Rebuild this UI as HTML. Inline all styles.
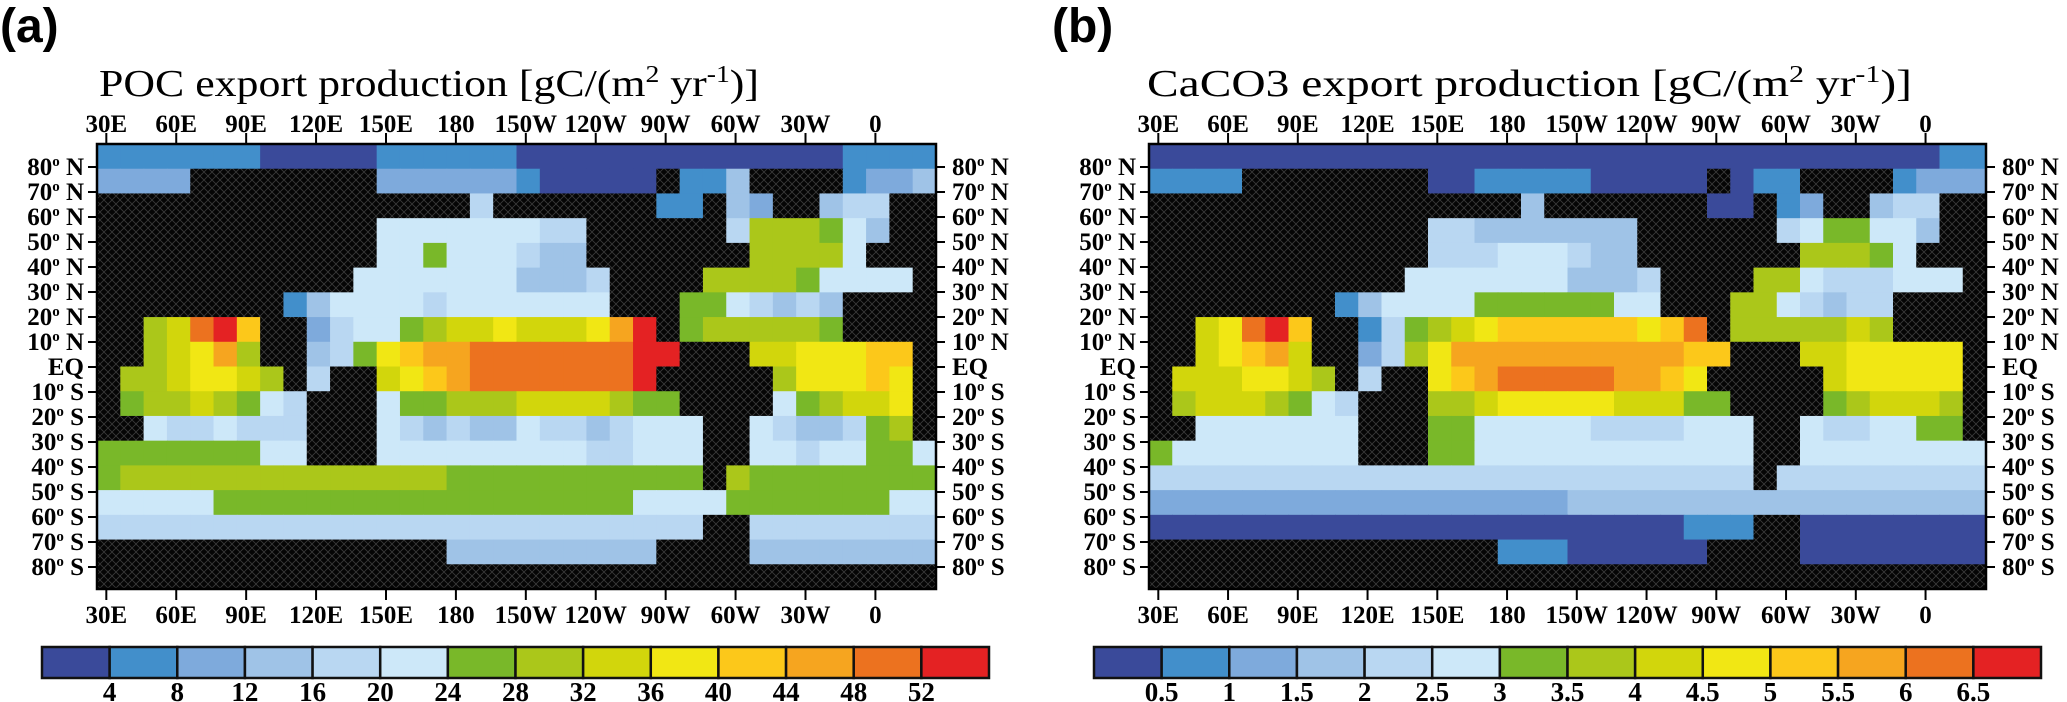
<!DOCTYPE html>
<html><head><meta charset="utf-8"><style>
html,body{margin:0;padding:0;background:#fff;}
svg{display:block;}
.tk{font-family:"Liberation Serif",serif;font-weight:bold;font-size:25px;fill:#000;}
.ttl{font-family:"Liberation Serif",serif;font-size:38px;fill:#000;}
.pl{font-family:"Liberation Sans",sans-serif;font-weight:bold;font-size:48px;fill:#000;}
.cb{font-family:"Liberation Serif",serif;font-weight:bold;font-size:27px;fill:#000;}
</style></head><body>
<svg id="fig" width="2067" height="702" viewBox="0 0 2067 702" xmlns="http://www.w3.org/2000/svg">
<defs>
<pattern id="hatch" width="8" height="8" patternUnits="userSpaceOnUse">
<rect width="8" height="8" fill="#050505"/>
<path d="M0 0L8 8M8 0L0 8" stroke="#3a3a3a" stroke-width="0.8"/>
</pattern>
</defs>
<text class="pl" x="0" y="42">(a)</text>
<text class="pl" x="1052" y="42">(b)</text>
<text class="ttl" x="99" y="96" textLength="660" lengthAdjust="spacingAndGlyphs">POC export production [gC/(m<tspan dy="-14" font-size="24">2</tspan><tspan dy="14"> yr</tspan><tspan dy="-14" font-size="24">-1</tspan><tspan dy="14">)]</tspan></text>
<text class="ttl" x="1147" y="96" textLength="765" lengthAdjust="spacingAndGlyphs">CaCO3 export production [gC/(m<tspan dy="-14" font-size="24">2</tspan><tspan dy="14"> yr</tspan><tspan dy="-14" font-size="24">-1</tspan><tspan dy="14">)]</tspan></text>
<g id="pa"></g>
<g id="pb"></g>
</svg>
<script>
const gridA = [
"111111 100000 111111 000000 000000 001111",
"2222## ###### 222222 100000 #113## ##1223",
"###### ###### ####4# ###### 11#32# #344##",
"###### ###### 555555 544### ###477 7653##",
"###### ###### 556555 433### ####77 775###",
"###### #####5 555555 3334## ##7777 65555#",
"###### ##1355 554555 5555## #66543 43####",
"##78cd a##245 567889 8889bd #67777 76####",
"##789b 7##346 9abbcc cccccd d###88 999aa#",
"#77899 87#4## 89abcc cccccd #####7 999a9#",
"#67787 654### 566777 888876 6####5 67889#",
"##5445 444### 543433 544345 55##54 33467#",
"666666 655### 555555 555445 55##55 455665",
"677777 777777 777666 666666 66#766 666666",
"555556 666666 666666 666665 555666 666655",
"444444 444444 444444 444444 44##44 444444",
"###### ###### ###333 333333 ####33 333333",
"###### ###### ###### ###### ###### ######"
];
const gridB = [
"000000 000000 000000 000000 000000 000011",
"1111## ###### 001111 100000 #011## ##1222",
"###### ###### ####3# ###### 00#12# #344##",
"###### ###### 443333 333### ###456 6553##",
"###### ###### 444555 433### ####77 765###",
"###### #####5 555555 3334## ##7754 44555#",
"###### ##1355 556666 6655## #77543 44####",
"##89cd a##146 789aaa aaa9ac #77777 87####",
"##89ab 8##247 9bbbbb bbbbba a###88 99999#",
"#88899 87#4## 9abccc ccbba9 #####8 99999#",
"#78887 654### 778999 998886 6####6 78887#",
"##5555 555### 665555 544445 55##54 45566#",
"655555 555### 665555 555555 55##55 555555",
"444444 444444 444444 444444 44#444 444444",
"222222 222222 222222 333333 333333 333333",
"000000 000000 000000 000001 11##00 000000",
"###### ###### ###111 000000 ####00 000000",
"###### ###### ###### ###### ###### ######"
];
const levelsA = ["4","8","12","16","20","24","28","32","36","40","44","48","52"];
const levelsB = ["0.5","1","1.5","2","2.5","3","3.5","4","4.5","5","5.5","6","6.5"];
const lonTickValues = [30,60,90,120,150,180,210,240,270,300,330,360];
const lonTickLabels = ["30E","60E","90E","120E","150E","180","150W","120W","90W","60W","30W","0"];
const latTickValues = [80,70,60,50,40,30,20,10,0,-10,-20,-30,-40,-50,-60,-70,-80];
const latTickLabels = ["80","70","60","50","40","30","20","10","EQ","10","20","30","40","50","60","70","80"];

const palette = ["#3a4a9a","#428fcb","#7eaadc","#9fc3e7","#b9d7f2","#cde8f9","#79b829","#abc71a","#d2d60c","#f1e714","#fcc81a","#f6a51f","#ec721f","#e42223"];
const NS="http://www.w3.org/2000/svg";
function mk(tag, attrs, parent){const e=document.createElementNS(NS,tag);for(const k in attrs)e.setAttribute(k,attrs[k]);parent.appendChild(e);return e;}

function drawPanel(g, gridRaw, x0, y0, w, h, cbx, levels, rightLabelX){
  const grid = gridRaw.map(r=>r.replace(/ /g,''));
  const lonStart=26;
  const xs = lon => x0 + (lon-lonStart)*w/360;
  const ys = lat => y0 + (89.2-lat)*2.5;
  const nr=grid.length, nc=36;
  const cw=w/nc, ch=h/nr;
  for(let r=0;r<nr;r++){
    for(let c=0;c<nc;c++){
      const ch0=grid[r][c]||'#';
      const fill = ch0==='#' ? 'url(#hatch)' : palette[parseInt(ch0,16)];
      const cell=mk('rect',{x:(x0+c*cw).toFixed(2),y:(y0+r*ch).toFixed(2),width:(cw+0.6).toFixed(2),height:(ch+0.6).toFixed(2),fill:fill},g);
      
      
    }
  }
  const fr=mk('rect',{x:x0,y:y0,width:w,height:h,fill:'none',stroke:'#000','stroke-width':2.5},g);
  
  
  lonTickValues.forEach((v,i)=>{
    const x=xs(v);
    mk('line',{x1:x,y1:y0-11,x2:x,y2:y0,stroke:'#000','stroke-width':2},g);
    mk('line',{x1:x,y1:y0+h,x2:x,y2:y0+h+11,stroke:'#000','stroke-width':2},g);
    const t1=mk('text',{x:x,y:y0-12,'text-anchor':'middle',class:'tk'},g);
    t1.textContent=lonTickLabels[i];
    
    
    const t2=mk('text',{x:x,y:y0+h+34,'text-anchor':'middle',class:'tk'},g);
    t2.textContent=lonTickLabels[i];
    
    
  });
  latTickValues.forEach((v,i)=>{
    const y=ys(v);
    mk('line',{x1:x0-9,y1:y,x2:x0,y2:y,stroke:'#000','stroke-width':2},g);
    mk('line',{x1:x0+w,y1:y,x2:x0+w+9,y2:y,stroke:'#000','stroke-width':2},g);
    const hemi = v>0?'N':(v<0?'S':'');
    const makeLab=(x,anchor,nm)=>{
      const t=mk('text',{x:x,y:y+8,'text-anchor':anchor,class:'tk'},g);
      if(hemi){
        t.appendChild(document.createTextNode(latTickLabels[i]));
        const s=mk('tspan',{dy:-9,'font-size':15},t); s.textContent='o';
        const s2=mk('tspan',{dy:9},t); s2.textContent=' '+hemi;
      } else t.textContent=latTickLabels[i];
      
      
    };
    makeLab(x0-13,'end','left-lat-label');
    makeLab(rightLabelX,'start','right-lat-label');
  });
  const nb=levels.length+1, bw=947/nb;
  for(let k=0;k<nb;k++){
    const b=mk('rect',{x:cbx+k*bw,y:647,width:bw,height:31,fill:palette[k],stroke:'#111','stroke-width':2.5},g);
    
    
  }
  levels.forEach((lv,k)=>{
    const t=mk('text',{x:cbx+(k+1)*bw,y:701,'text-anchor':'middle',class:'cb'},g);
    t.textContent=lv;
    
    
  });
}
drawPanel(document.getElementById('pa'), gridA, 97, 144, 839, 445, 42, levelsA, 952);
drawPanel(document.getElementById('pb'), gridB, 1149, 144, 837, 445, 1094, levelsB, 2002);
</script>
</body></html>
